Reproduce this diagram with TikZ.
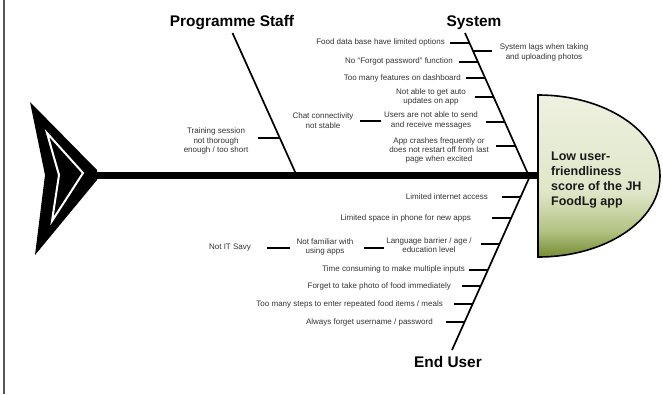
\documentclass[tikz,border=0pt]{standalone}
\usepackage{fontspec}
\setmainfont{Liberation Sans}
\usetikzlibrary{calc}

\definecolor{labgray}{HTML}{333333}
\definecolor{frameline}{HTML}{555555}
\definecolor{headtop}{HTML}{EEF1E0}
\definecolor{headlight}{HTML}{DFE6C8}
\definecolor{headmid}{HTML}{B2C282}
\definecolor{headdark}{HTML}{768D35}

% fish head fill: olive at the bottom fading to pale green at the top
\pgfdeclareverticalshading{headshade}{100bp}{%
  color(0bp)=(headdark); color(25bp)=(headdark); color(33bp)=(headmid);
  color(45bp)=(headlight); color(75bp)=(headtop); color(100bp)=(headtop)}

\begin{document}
\begin{tikzpicture}[x=1pt,y=-1pt,
  lab/.style={font=\fontsize{8}{9.3}\selectfont, text=labgray, inner sep=0pt, align=center},
  cattitle/.style={font=\fontsize{15.4}{18}\selectfont\bfseries, inner sep=0pt, anchor=base},
  headtext/.style={font=\fontsize{12.5}{15}\selectfont\bfseries, inner sep=0pt, align=left, text=black!90},
  bone/.style={line width=1.7pt},
  ribbar/.style={line width=2pt},
]
\useasboundingbox (0,0) rectangle (663,394);

% left frame line
\draw[frameline, line width=1.2pt] (4,0) -- (4,394);

% tail fin
\fill (30,102) -- (97,170) -- (97,180) -- (35,255) -- (45,175) -- cycle;
\draw[white, line width=2pt, line join=miter] (47,133) -- (83,173) -- (52,221) -- (59,175) -- cycle;

% spine
\coordinate (tail) at (97,175);
\coordinate (headL) at (538,175);
\draw[line width=7pt] (tail) -- (headL);

% head
\shadedraw[shading=headshade, line width=1.6pt]
  (538,95) -- (538,257) arc[start angle=-90, end angle=90, x radius=122pt, y radius=81pt] -- cycle;
\node[headtext, anchor=west] (effect) at (551,180)
  {Low user-\\friendliness\\score of the JH\\FoodLg app};

% main bones
\coordinate (psT) at (232.5,33);  \coordinate (psB) at (296,174);
\coordinate (syT) at (465,33);    \coordinate (syB) at (528,174);
\coordinate (euT) at (530,176);   \coordinate (euB) at (452,350);
\draw[bone] (psT) -- (psB);
\draw[bone] (syT) -- (syB);
\draw[bone] (euT) -- (euB);

% category titles
\node[cattitle] (ps)  at (232,26)  {Programme Staff};
\node[cattitle] (sys) at (474,26)  {System};
\node[cattitle] (eu)  at (448,367) {End User};

% ---- Programme Staff causes
\coordinate (p1) at ($(psT)!{(138-33)/141}!(psB)$);
\draw[ribbar] (p1) -- ++(-22,0);
\node[lab] (train) at (216,141) {Training session\\not thorough\\enough / too short};

% ---- System causes
\coordinate (s1) at ($(syT)!{(43-33)/141}!(syB)$);
\coordinate (s2) at ($(syT)!{(62-33)/141}!(syB)$);
\coordinate (s3) at ($(syT)!{(78-33)/141}!(syB)$);
\coordinate (s4) at ($(syT)!{(97-33)/141}!(syB)$);
\coordinate (s5) at ($(syT)!{(122-33)/141}!(syB)$);
\coordinate (s6) at ($(syT)!{(146-33)/141}!(syB)$);
\coordinate (s7) at ($(syT)!{(51-33)/141}!(syB)$);
\foreach \c in {s1,s2,s3,s4,s5,s6} \draw[ribbar] (\c) -- ++(-19,0);
\draw[ribbar] (s7) -- ++(19,0);

\node[lab, anchor=east] (fooddb) at (445,42) {Food data base have limited options};
\node[lab, anchor=east] (forgot) at (453,61) {No “Forgot password” function};
\node[lab, anchor=east] (dash)   at (461,78) {Too many features on dashboard};
\node[lab] (auto)  at (431,97)    {Not able to get auto\\updates on app};
\node[lab] (users) at (431,120.5) {Users are not able to send\\and receive messages};
\node[lab] (chat)  at (323,120.5) {Chat connectivity\\not stable};
\node[lab] (crash) at (439,150.5) {App crashes frequently or\\does not restart off from last\\page when excited};
\node[lab] (lags)  at (544,52.5)  {System lags when taking\\and uploading photos};
\draw[ribbar, shorten <=6.5pt, shorten >=3pt] (chat.east) -- (chat.east -| users.west);

% ---- End User causes
\coordinate (e1) at ($(euT)!{(197-176)/174}!(euB)$);
\coordinate (e2) at ($(euT)!{(218-176)/174}!(euB)$);
\coordinate (e3) at ($(euT)!{(244-176)/174}!(euB)$);
\coordinate (e4) at ($(euT)!{(270-176)/174}!(euB)$);
\coordinate (e5) at ($(euT)!{(286-176)/174}!(euB)$);
\coordinate (e6) at ($(euT)!{(304-176)/174}!(euB)$);
\coordinate (e7) at ($(euT)!{(322-176)/174}!(euB)$);
\foreach \c in {e1,e2,e3,e4,e5,e6,e7} \draw[ribbar] (\c) -- ++(-19,0);

\node[lab, anchor=east] (inet)  at (488,197) {Limited internet access};
\node[lab, anchor=east] (space) at (471,218) {Limited space in phone for new apps};
\node[lab] (lang)  at (429,245) {Language barrier / age /\\education level};
\node[lab] (famil) at (325,247) {Not familiar with\\using apps};
\node[lab] (notit) at (230,248) {Not IT Savy};
\node[lab, anchor=east] (inputs) at (465,269) {Time consuming to make multiple inputs};
\node[lab, anchor=east] (photo)  at (451,286) {Forget to take photo of food immediately};
\node[lab, anchor=east] (steps)  at (443,304) {Too many steps to enter repeated food items / meals};
\node[lab, anchor=east] (login)  at (433,322) {Always forget username / password};
\draw[ribbar, shorten <=16pt, shorten >=6pt] (notit.east) -- (notit.east -| famil.west);
\draw[ribbar, shorten <=10.5pt, shorten >=2.5pt] ([yshift=-1pt]famil.east) -- ([yshift=-1pt]famil.east -| lang.west);

\end{tikzpicture}
\end{document}
